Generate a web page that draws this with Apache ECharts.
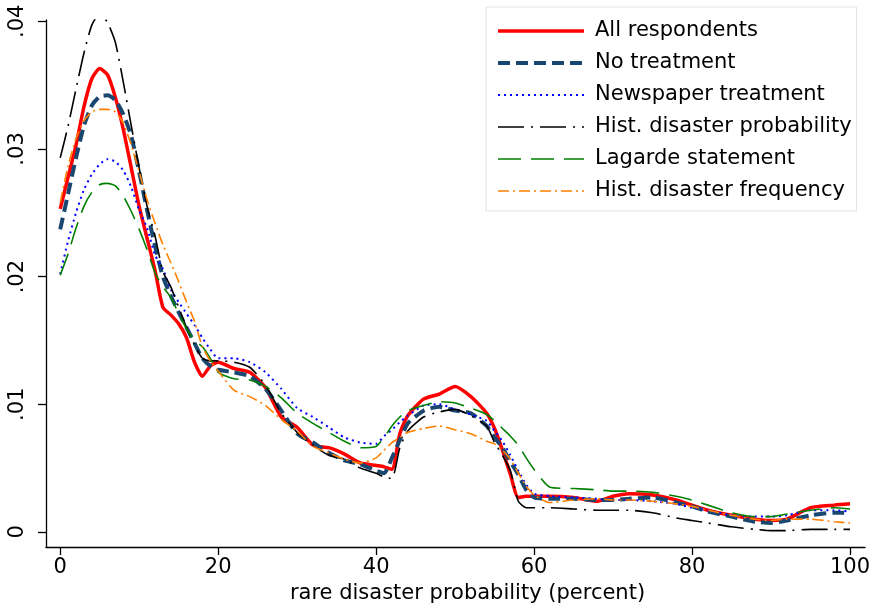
<!DOCTYPE html>
<html>
<head>
<meta charset="utf-8">
<script src="https://cdn.jsdelivr.net/npm/echarts@6/dist/echarts.min.js"></script>
<style>
html,body{margin:0;padding:0;background:#fff;}
#chart{width:874px;height:613px;}
</style>
</head>
<body>
<div id="chart"></div>
<script>
// x grid (rare disaster probability, percent)
const xs = [0,1,2,3,4,5,6,7,8,9,10,11,12,13,14,15,16,17,18,19,20,
  22,24,26,28,30,32,34,36,38,40,
  41,42,43,44,
  46,48,50,52,54,
  55,56,57,58,59,60,
  62,65,68,70,72,75,78,80,82,85,88,90,92,95,98,100];

const allRespondents = [0.0253,0.0278,0.0303,0.0333,0.0355,0.0363,0.0358,0.0340,0.0315,0.0285,0.0255,0.0230,0.0205,0.0176,0.0170,0.0163,0.0152,0.0133,0.0122,0.0130,0.0133,
  0.0128,0.0125,0.0113,0.0090,0.0082,0.0068,0.0066,0.0061,0.0054,0.0052,
  0.0051,0.0049,0.0077,0.0091,
  0.0104,0.0108,0.0114,0.0106,0.0093,
  0.0081,0.0064,0.0045,0.0027,0.0028,0.0028,
  0.0028,0.0027,0.0024,0.0028,0.0030,0.0029,0.0025,0.0021,0.0017,0.0013,0.0010,0.0009,0.0010,0.0019,0.0021,0.0022];

const noTreatment = [0.0237,0.0265,0.0293,0.0318,0.0334,0.0341,0.0342,0.0338,0.0327,0.0310,0.0282,0.0252,0.0224,0.0200,0.0185,0.0172,0.0160,0.0148,0.0136,0.0130,0.0127,
  0.0125,0.0122,0.0112,0.0095,0.0077,0.0070,0.0062,0.0056,0.0053,0.0048,
  0.0046,0.0058,0.0072,0.0085,
  0.0095,0.0098,0.0095,0.0093,0.0083,
  0.0074,0.0066,0.0055,0.0045,0.0033,0.0027,
  0.0026,0.0026,0.0025,0.0025,0.0026,0.0027,0.0023,0.0020,0.0016,0.0012,0.0008,0.0007,0.0009,0.0013,0.0015,0.0015];

const newspaper = [0.0202,0.0228,0.0250,0.0268,0.0280,0.0288,0.0292,0.0290,0.0283,0.0270,0.0252,0.0238,0.0217,0.0206,0.0190,0.0180,0.0171,0.0162,0.0152,0.0143,0.0136,
  0.0136,0.0133,0.0125,0.0112,0.0097,0.0090,0.0082,0.0074,0.0070,0.0069,
  0.0075,0.0080,0.0086,0.0091,
  0.0099,0.0100,0.0096,0.0092,0.0087,
  0.0079,0.0071,0.0060,0.0048,0.0037,0.0030,
  0.0028,0.0027,0.0026,0.0025,0.0025,0.0024,0.0022,0.0019,0.0017,0.0013,0.0012,0.0012,0.0013,0.0017,0.0017,0.0016];

const histProbability = [0.0293,0.0318,0.0347,0.0375,0.0397,0.0406,0.0399,0.0383,0.0352,0.0318,0.0285,0.0255,0.0232,0.0204,0.0192,0.0176,0.0160,0.0147,0.0136,0.0134,0.0134,
  0.0133,0.0129,0.0115,0.0093,0.0078,0.0068,0.0060,0.0057,0.0050,0.0046,
  0.0043,0.0042,0.0066,0.0079,
  0.0090,0.0094,0.0096,0.0091,0.0083,
  0.0070,0.0060,0.0048,0.0024,0.0019,0.0019,
  0.0019,0.0018,0.0017,0.0017,0.0017,0.0015,0.0011,0.0009,0.0007,0.0004,0.0002,0.0001,0.0001,0.0002,0.0002,0.0002];

const lagarde = [0.0201,0.0218,0.0238,0.0255,0.0266,0.0272,0.0273,0.0271,0.0263,0.0251,0.0237,0.0221,0.0203,0.0192,0.0184,0.0171,0.0159,0.0150,0.0145,0.0136,0.0125,
  0.0120,0.0119,0.0114,0.0105,0.0093,0.0085,0.0078,0.0071,0.0066,0.0067,
  0.0074,0.0083,0.0090,0.0095,
  0.0099,0.0102,0.0101,0.0097,0.0092,
  0.0087,0.0081,0.0075,0.0068,0.0058,0.0049,
  0.0035,0.0034,0.0033,0.0032,0.0032,0.0031,0.0028,0.0025,0.0021,0.0015,0.0012,0.0012,0.0014,0.0017,0.0019,0.0018];

const histFrequency = [0.0258,0.0287,0.0308,0.0322,0.0329,0.0331,0.0331,0.0329,0.0320,0.0303,0.0282,0.0260,0.0242,0.0225,0.0211,0.0196,0.0180,0.0165,0.0145,0.0134,0.0126,
  0.0111,0.0106,0.0099,0.0088,0.0079,0.0067,0.0062,0.0057,0.0054,0.0058,
  0.0064,0.0070,0.0074,0.0078,
  0.0081,0.0083,0.0080,0.0077,0.0071,
  0.0069,0.0064,0.0057,0.0046,0.0036,0.0029,
  0.0023,0.0025,0.0026,0.0025,0.0025,0.0024,0.0022,0.0020,0.0017,0.0013,0.0010,0.0009,0.0010,0.0010,0.0008,0.0007];

const seriesNames = ['All respondents','No treatment','Newspaper treatment','Hist. disaster probability','Lagarde statement','Hist. disaster frequency'];
const xTicks = [0,20,40,60,80,100];
const yTicks = [0,0.01,0.02,0.03,0.04];

const FONT = 'DejaVu Sans';
const seriesVals = [allRespondents,noTreatment,newspaper,histProbability,lagarde,histFrequency];
const styles = [
  {color:'#ff0000', width:3.5, type:'solid'},
  {color:'#1a476f', width:4, type:[12,6]},
  {color:'#0000ff', width:2, type:[2,4]},
  {color:'#000000', width:1.6, type:[26,7,2,7]},
  {color:'#008000', width:1.6, type:[23,10]},
  {color:'#ff7f00', width:1.6, type:[11,4,2,4]}
];

const chart = echarts.init(document.getElementById('chart'), null, {renderer:'canvas'});
chart.setOption({
  animation:false,
  backgroundColor:'#ffffff',
  textStyle:{fontFamily:FONT},
  grid:{left:46, right:9, top:20, bottom:66, containLabel:false},
  xAxis:{
    type:'value', min:-1.8, max:101.9,
    axisLine:{show:true, onZero:false, lineStyle:{color:'#000', width:1.3}},
    axisTick:{show:true, length:8, customValues:xTicks, lineStyle:{color:'#000', width:1.3}},
    axisLabel:{customValues:xTicks, fontFamily:FONT, fontSize:21, color:'#000', margin:10},
    splitLine:{show:false},
    name:'rare disaster probability (percent)', nameLocation:'middle', nameGap:35,
    nameTextStyle:{fontFamily:FONT, fontSize:21, color:'#000', padding:[0,0,0,24]}
  },
  yAxis:{
    type:'value', min:-0.00118, max:0.0401,
    axisLine:{show:true, onZero:false, lineStyle:{color:'#000', width:1.3}},
    axisTick:{show:true, length:8, customValues:yTicks, lineStyle:{color:'#000', width:1.3}},
    axisLabel:{customValues:yTicks, rotate:90, fontFamily:FONT, fontSize:21, color:'#000', margin:18,
      formatter:function(v){ return v === 0 ? '0' : v.toFixed(2).replace(/^0/, ''); }},
    splitLine:{show:false}
  },
  legend:{
    orient:'vertical', left:486, top:7,
    data:seriesNames.map((n,k)=>({name:n, lineStyle:{width:styles[k].width, type:styles[k].type, color:styles[k].color}})),
    itemWidth:86, itemHeight:14, itemGap:10,
    padding:[13,5,9,10],
    borderColor:'#e3e3e3', borderWidth:1, backgroundColor:'#fff',
    itemStyle:{opacity:0, color:'transparent', borderWidth:0},
    textStyle:{fontFamily:FONT, fontSize:21, color:'#000', lineHeight:22, padding:[0,0,0,6]}
  },
  series: seriesNames.map((name,k)=>({
    name:name, type:'line', showSymbol:false, symbol:'none', smooth:0.2,
    data: xs.map((x,i)=>[x, seriesVals[k][i]]),
    lineStyle:{color:styles[k].color, width:styles[k].width, type:styles[k].type},
    itemStyle:{color:styles[k].color},
    z: 2 + k
  }))
});
</script>
</body>
</html>
